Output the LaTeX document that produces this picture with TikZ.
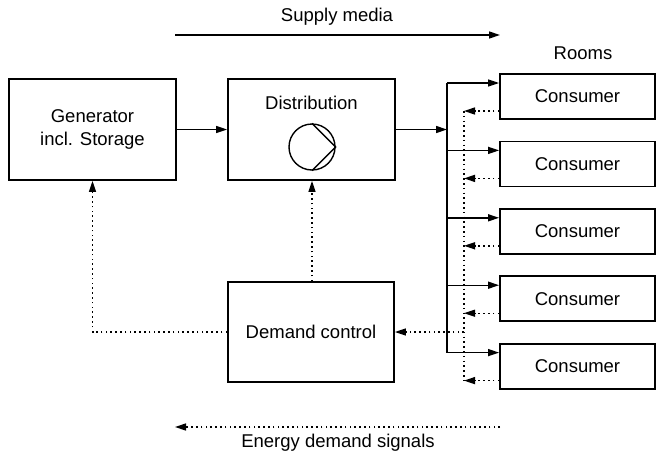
\documentclass[tikz,border=0pt]{standalone}
\usepackage{fontspec}
\setmainfont{Liberation Sans}
\usetikzlibrary{arrows.meta}
\begin{document}
\begin{tikzpicture}[x=1pt,y=-1pt,
  every node/.style={font=\fontsize{18.5}{23}\selectfont},
  box/.style={draw,line width=1.8pt,inner sep=0pt},
  bigbox/.style={box,minimum width=167pt,minimum height=101pt},
  cons/.style={box,minimum width=155pt,minimum height=45pt},
  flow/.style={line width=1.4pt,-{Triangle[length=11pt,width=7pt]}},
  sig/.style={line width=1.4pt,dash pattern=on 1.6pt off 3.2pt,-{Triangle[length=11pt,width=7pt]}},
  sigline/.style={line width=1.4pt,dash pattern=on 1.6pt off 3.2pt}]
\useasboundingbox (0,0) rectangle (657,456);
% main boxes
\node[bigbox,align=center] (gen) at (92.5,129.5) {Generator\\incl. Storage};
\node[bigbox] (dist) at (311.5,129.5) {};
\node (distlbl) at (311.5,103) {Distribution};
\node[box,minimum width=166pt,minimum height=100pt] (dem) at (311,332) {Demand control};
% pump
\node[draw,circle,line width=1.4pt,minimum size=46pt,inner sep=0pt] (pump) at (312,147) {};
\draw[line width=1.4pt] (pump.north) -- (pump.east) -- (pump.south);
% consumers
\node (rooms) at (583,53) {Rooms};
\foreach \i/\y in {1/96.5,2/163.9,3/231.3,4/298.7,5/366.1}{
  \node[cons] (c\i) at (577.5,\y) {Consumer};
  \coordinate (bus\i) at (447,\y-13.5);
  \coordinate (ret\i) at (464,\y+14.5);
  \draw[flow] (bus\i) -- (bus\i -| c\i.west);
  \draw[sig] (ret\i -| c\i.west) -- (ret\i);
}
\coordinate (busin) at (447,129.5);
\draw[line width=1.4pt] (bus1) -- (bus5);
\draw[sigline] (ret1) -- (ret5);
\draw[flow] (gen.east |- busin) -- (dist.west |- busin);
\draw[flow] (dist.east |- busin) -- (busin);
% demand signals
\coordinate (demin) at (464,332);
\draw[sig] (demin) -- (dem.east |- demin);
\draw[sig] (dem.north -| pump.center) -- (dist.south -| pump.center);
\draw[sig] (dem.west |- demin) -| (gen.south);
% legend arrows
\coordinate (sa) at (175,35);
\coordinate (sb) at (500,35);
\draw[flow] (sa) -- (sb);
\node (supply) at (337,17) {Supply media};
\coordinate (ea) at (500,427);
\coordinate (eb) at (175,427);
\draw[sig] (ea) -- (eb);
\node (energy) at (338,443) {Energy demand signals};
\end{tikzpicture}
\end{document}
